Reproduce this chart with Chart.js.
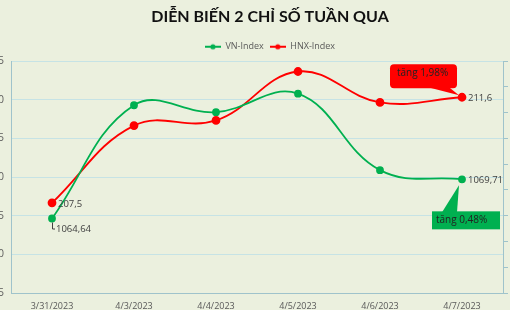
<!DOCTYPE html>
<html>
<head>
<meta charset="utf-8">
<script src="https://cdn.jsdelivr.net/npm/chart.js@4.4.1/dist/chart.umd.min.js"></script>
<style>
  html, body { margin: 0; padding: 0; background: #ebf0de; overflow: hidden; }
  #wrap { position: absolute; left: -30px; top: 0; width: 600px; height: 310px; }
</style>
</head>
<body>
<div id="wrap"><canvas id="chart" width="600" height="310"></canvas></div>
<script>
const dates = ["3/31/2023", "4/3/2023", "4/4/2023", "4/5/2023", "4/6/2023", "4/7/2023"];
const vnIndex = [1064.64, 1079.3, 1078.4, 1080.8, 1070.9, 1069.71];
const hnxIndex = [207.5, 210.5, 210.7, 212.6, 211.4, 211.6];
const labelledPoints = [0, 5];
const vnAxis = { min: 1055, max: 1085, step: 5 };
const hnxAxis = { min: 204, max: 213, step: 1 };

const green = "#00b050";
const red = "#ff0000";

// small line + dot used as legend marker
function legendMarker(color) {
    const c = document.createElement("canvas");
    c.width = 16;
    c.height = 8;
    const g = c.getContext("2d");
    g.strokeStyle = color;
    g.lineWidth = 2;
    g.beginPath();
    g.moveTo(0, 4);
    g.lineTo(16, 4);
    g.stroke();
    g.fillStyle = color;
    g.beginPath();
    g.arc(8, 4, 2.6, 0, Math.PI * 2);
    g.fill();
    return c;
}

function fmt(v) {
    return String(v).replace(".", ",");
}

function pct(arr) {
    return ((arr[arr.length - 1] / arr[0] - 1) * 100).toFixed(2).replace(".", ",") + "%";
}

const labelPlugin = {
    id: "labels",
    afterDatasetsDraw(chart) {
        const ctx = chart.ctx;
        ctx.save();
        ctx.font = "9.5px 'Open Sans'";
        ctx.fillStyle = "#404040";
        ctx.textBaseline = "middle";
        ctx.textAlign = "left";

        const vnPts = chart.getDatasetMeta(0).data;
        const hnxPts = chart.getDatasetMeta(1).data;

        labelledPoints.forEach(i => {
            const p = vnPts[i];
            const h = hnxPts[i];
            if (i === 0) {
                // leader line for first VN label
                ctx.strokeStyle = "#404040";
                ctx.lineWidth = 1;
                ctx.beginPath();
                ctx.moveTo(p.x + 0.5, p.y + 4);
                ctx.lineTo(p.x + 0.5, p.y + 10.5);
                ctx.lineTo(p.x + 3, p.y + 10.5);
                ctx.stroke();
                ctx.fillText(fmt(vnIndex[i]), p.x + 4, p.y + 11);
            } else {
                ctx.fillText(fmt(vnIndex[i]), p.x + 6, p.y + 0.5);
            }
            ctx.fillText(fmt(hnxIndex[i]), h.x + 6, h.y + 1);
        });

        // callouts at the last points
        const rp = hnxPts[hnxPts.length - 1];
        ctx.fillStyle = red;
        ctx.beginPath();
        ctx.roundRect(rp.x - 72, rp.y - 33, 67, 24, 4);
        ctx.fill();
        ctx.beginPath();
        ctx.moveTo(rp.x - 34, rp.y - 10);
        ctx.lineTo(rp.x - 3, rp.y - 2);
        ctx.lineTo(rp.x - 13, rp.y - 10);
        ctx.closePath();
        ctx.fill();
        ctx.fillStyle = "#222";
        ctx.font = "10px 'Open Sans'";
        ctx.fillText("tăng " + pct(hnxIndex), rp.x - 65, rp.y - 24);

        const gp = vnPts[vnPts.length - 1];
        ctx.fillStyle = green;
        ctx.fillRect(gp.x - 30, gp.y + 32, 68, 18);
        ctx.beginPath();
        ctx.moveTo(gp.x - 20, gp.y + 33);
        ctx.lineTo(gp.x - 3, gp.y + 6);
        ctx.lineTo(gp.x - 5, gp.y + 33);
        ctx.closePath();
        ctx.fill();
        ctx.fillStyle = "#222";
        ctx.fillText("tăng " + pct(vnIndex), gp.x - 26, gp.y + 41);
        ctx.restore();
    }
};

const ctx = document.getElementById("chart").getContext("2d");

new Chart(ctx, {
    type: "line",
    data: {
        labels: dates,
        datasets: [{
            label: "VN-Index",
            data: vnIndex,
            yAxisID: "y",
            borderColor: green,
            backgroundColor: green,
            borderWidth: 1.8,
            tension: 0.4,
            pointRadius: 3,
            pointHoverRadius: 3
        }, {
            label: "HNX-Index",
            data: hnxIndex,
            yAxisID: "y1",
            borderColor: red,
            backgroundColor: red,
            borderWidth: 1.8,
            tension: 0.4,
            pointRadius: 3.5,
            pointHoverRadius: 3.5
        }]
    },
    options: {
        responsive: false,
        animation: false,
        layout: { padding: { top: 6, bottom: 0 } },
        plugins: {
            tooltip: { enabled: false },
            title: {
                display: true,
                text: "DIỄN BIẾN 2 CHỈ SỐ TUẦN QUA",
                color: "#111",
                font: { family: "Lato", size: 16, weight: "bold" },
                padding: { top: 1, bottom: 10 }
            },
            legend: {
                display: true,
                labels: {
                    color: "#595959",
                    font: { family: "Open Sans", size: 9 },
                    usePointStyle: true,
                    pointStyleWidth: 16,
                    boxHeight: 8,
                    padding: 6,
                    generateLabels(chart) {
                        return chart.data.datasets.map((ds, i) => ({
                            text: ds.label,
                            pointStyle: legendMarker(ds.borderColor),
                            fillStyle: ds.borderColor,
                            strokeStyle: ds.borderColor,
                            fontColor: "#595959",
                            lineWidth: 0,
                            datasetIndex: i
                        }));
                    }
                }
            }
        },
        scales: {
            x: {
                offset: true,
                grid: { display: false },
                border: { display: true, color: "#9fc3cb" },
                ticks: { color: "#595959", font: { family: "Open Sans", size: 9 }, padding: 0, maxRotation: 0 },
                afterFit(s) { s.height = 17; }
            },
            y: {
                position: "left",
                min: vnAxis.min,
                max: vnAxis.max,
                ticks: { stepSize: vnAxis.step, color: "#595959", font: { family: "Open Sans", size: 10 }, padding: 7 },
                grid: { color: "#c6e3e5", drawTicks: false },
                border: { display: true, color: "#9fc3cb" },
                afterFit(s) { s.width = 41; }
            },
            y1: {
                position: "right",
                min: hnxAxis.min,
                max: hnxAxis.max,
                ticks: { stepSize: hnxAxis.step, color: "#595959", font: { family: "Open Sans", size: 10 }, padding: 4 },
                grid: { drawOnChartArea: false, color: "#9fc3cb", tickLength: 5 },
                border: { display: true, color: "#9fc3cb" },
                afterFit(s) { s.width = 67; }
            }
        }
    },
    plugins: [labelPlugin]
});
</script>
</body>
</html>
